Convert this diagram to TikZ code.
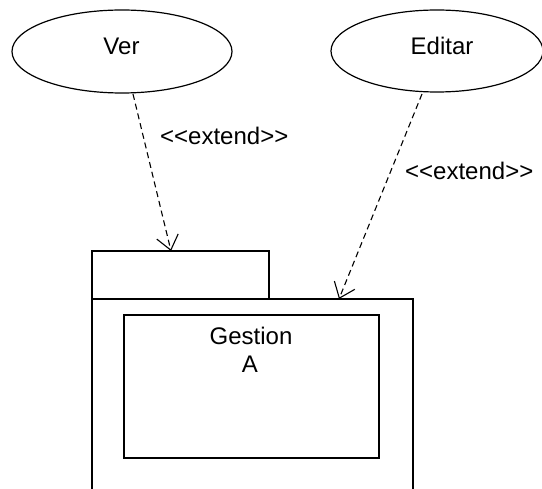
\documentclass[tikz,border=0pt]{standalone}
\usepackage{fontspec}
\setmainfont{Liberation Sans}
\usetikzlibrary{shapes.geometric,arrows.meta}
\begin{document}
\begin{tikzpicture}[x=1pt,y=-1pt,
  usecase/.style={draw,ellipse,line width=1.2pt,inner sep=0pt},
  lbl/.style={inner sep=0pt,font=\fontsize{24}{26}\selectfont},
  box/.style={draw,line width=1.1pt},
  ext/.style={line width=1.1pt,dash pattern=on 6pt off 4pt,-{Straight Barb[length=14pt,width=22pt,line width=1.1pt]}}]
\useasboundingbox (0,0) rectangle (542,489);
\node[usecase,minimum width=220pt,minimum height=83pt] (ver) at (122,51.5) {};
\node[usecase,minimum width=212pt,minimum height=82pt] (editar) at (437,51) {};
\node[lbl,anchor=base] (tver) at (121.5,55) {Ver};
\node[lbl,anchor=base] (tedit) at (442,55) {Editar};
% package
\draw[box] (92,299) rectangle (269,251);
\node[inner sep=0pt,minimum width=0pt] (tab) at (171,251) {};
\draw[box] (92,489) -- (92,299) -- (413,299) -- (413,489);
\coordinate (bodytop) at (339,299);
\node[box,minimum width=255pt,minimum height=143pt,inner sep=0pt] (inner) at (251.5,386.5) {};
\node[lbl,anchor=base] (gest) at (251,345) {Gestion};
\node[lbl,anchor=base] (a) at (250,373) {A};
% connectors
\coordinate (v1) at (133,94);
\coordinate (e1) at (422,94);
\draw[ext] (v1) -- (tab.center);
\draw[ext] (e1) -- (bodytop);
\node[lbl,anchor=base west] (l1) at (160,145) {\textless{}\textless{}extend\textgreater{}\textgreater{}};
\node[lbl,anchor=base west] (l2) at (405,180) {\textless{}\textless{}extend\textgreater{}\textgreater{}};
\end{tikzpicture}
\end{document}
